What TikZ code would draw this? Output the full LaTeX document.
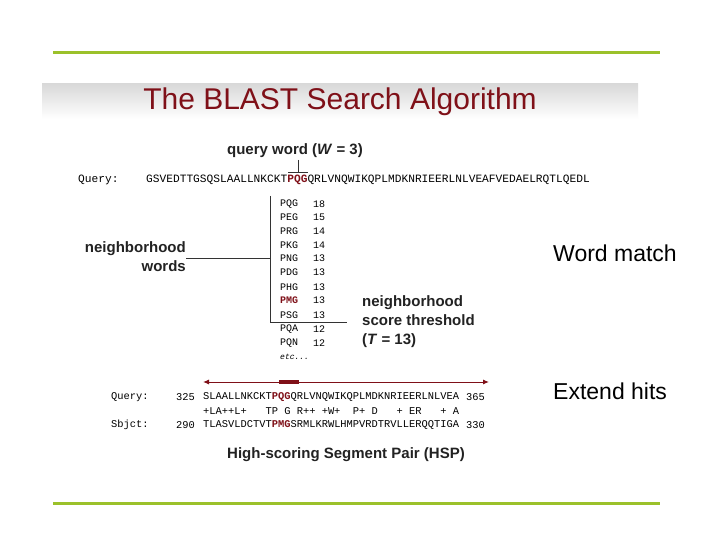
\documentclass[tikz,border=0pt]{standalone}
\usepackage{fontspec}
\usetikzlibrary{arrows.meta}
\setmainfont{Liberation Sans}
\newfontfamily\seqfont{Liberation Mono}
\definecolor{dred}{HTML}{7F1018}
\definecolor{lgreen}{HTML}{9BC12A}
\definecolor{tgray}{HTML}{222222}
\begin{document}
\begin{tikzpicture}[x=1pt,y=-1pt,
  lbl/.style={font=\bfseries\fontsize{15}{19}\selectfont, text=tgray, inner sep=0pt},
  big/.style={font=\fontsize{23}{26}\selectfont, text=black, inner sep=0pt, anchor=west},
  seq/.style={font=\seqfont\fontsize{11.2}{12}\selectfont, inner sep=0pt, anchor=west},
  seqb/.style={font=\seqfont\fontsize{10.4}{12}\selectfont, inner sep=0pt, anchor=west},
  wl/.style={font=\seqfont\fontsize{10}{11}\selectfont, inner sep=0pt, anchor=west},
  ln/.style={draw=black!80, line width=0.8pt}]
\useasboundingbox (0,0) rectangle (720,540);
\fill[white] (0,0) rectangle (720,540);
% green rules
\draw[lgreen, line width=3pt] (53,53) -- (660,53);
\draw[lgreen, line width=3pt] (53,503) -- (660,503);
% title band
\shade[top color=black!15, bottom color=white] (42,84) rectangle (638,119);
\node[font=\fontsize{30}{32}\selectfont, text=dred, inner sep=0pt] (title) at (340,102) {The BLAST Search Algorithm};
% query word
\node[lbl] (qw) at (295,151) {query word (\textit{W} = 3)};
\node[seq] (qlab) at (78,180) {Query:};
\node[seq] (qseq) at (146,180) {GSVEDTTGSQSLAALLNKCKT\textcolor{dred}{\textbf{PQG}}QRLVNQWIKQPLMDKNRIEERLNLVEAFVEDAELRQTLQEDL};
\coordinate (qt) at (298,160);
\coordinate (qb) at (298,172);
\draw[ln] (qt) -- (qb);
\draw[ln] (288,172) -- (308,172);
% word list
\foreach \w/\s/\y in {PQG/18/204,PEG/15/217,PRG/14/231,PKG/14/245,PNG/13/258,PDG/13/272,PHG/13/287,PSG/13/315,PQA/12/329,PQN/12/343}{
  \node[wl] at (280,\y) {\w};
  \node[wl] at (313,\y) {\s};
}
\node[wl,text=dred] (pmg) at (280,300) {\textbf{PMG}};
\node[wl] at (313,300) {13};
\node[wl, font=\seqfont\fontsize{8}{9}\selectfont] (etc) at (280,357) {\textit{etc...}};
\coordinate (vt) at (270,196);
\coordinate (vb) at (270,322);
\coordinate (vm) at (270,258);
\coordinate (th) at (347,322);
\draw[ln] (vt) -- (vb) -- (th);
\node[lbl, align=right, anchor=east] (nw) at (186,257) {neighborhood\\words};
\draw[ln] (nw.east |- vm) -- (vm);
\node[lbl, align=left, anchor=west] (nst) at (362,322) {neighborhood\\score threshold\\(\textit{T} = 13)};
% right labels
\node[big] (wm) at (553,253) {Word match};
\node[big] (eh) at (553,391) {Extend hits};
% HSP
\coordinate (al) at (203,382);
\coordinate (ar) at (489,382);
\draw[dred, line width=1pt, <->, >={Latex[length=6pt,width=5pt]}] (al) -- (ar);
\draw[dred, line width=4pt] (279,382) -- (299,382);
\node[seqb] (ql2) at (111,397) {Query:};
\node[seqb] at (176,397) {325};
\node[seqb] at (203,397) {SLAALLNKCKT\textcolor{dred}{\textbf{PQG}}QRLVNQWIKQPLMDKNRIEERLNLVEA};
\node[seqb] at (466,397) {365};
\node[seqb] at (203,411) {+LA++L+\ \ \ TP G R++ +W+\ \ P+ D\ \ \ + ER\ \ \ + A};
\node[seqb] (sl2) at (111,425) {Sbjct:};
\node[seqb] at (176,425) {290};
\node[seqb] at (203,425) {TLASVLDCTVT\textcolor{dred}{\textbf{PMG}}SRMLKRWLHMPVRDTRVLLERQQTIGA};
\node[seqb] at (466,425) {330};
\node[lbl] (hsp) at (346,455) {High-scoring Segment Pair (HSP)};
\end{tikzpicture}
\end{document}
